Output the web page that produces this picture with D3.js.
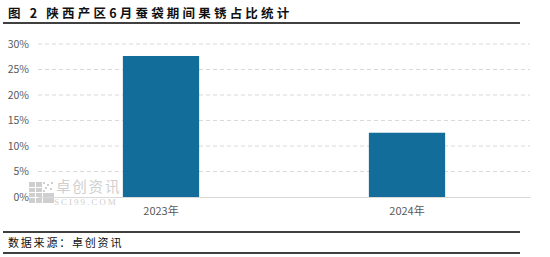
<!DOCTYPE html>
<html>
<head>
<meta charset="utf-8">
<script src="https://cdn.jsdelivr.net/npm/d3@7"></script>
<style>
  body { margin: 0; background: #fff; }
  svg { display: block; }
</style>
</head>
<body>
<div id="chart"></div>
<script>
// data
var years = ["2023年", "2024年"];
var shares = [27.65, 12.6];   // percent
var yTicks = [0, 5, 10, 15, 20, 25, 30];

var width = 550, height = 257;
var margin = { top: 44, right: 20, bottom: 60, left: 38 };

var svg = d3.select("#chart").append("svg")
    .attr("width", width)
    .attr("height", height);

var font = "'Noto Sans CJK SC', 'Liberation Sans', Arial, sans-serif";

// title and rules
svg.append("text")
    .attr("x", 8).attr("y", 18)
    .text("图 2 陕西产区6月蚕袋期间果锈占比统计")
    .style("font-family", font)
    .style("font-weight", "bold")
    .style("font-size", "12.5px")
    .style("letter-spacing", "3.2px")
    .style("fill", "#111");

[23, 232, 253].forEach(function(y) {
    svg.append("line")
        .attr("x1", 3).attr("x2", 520)
        .attr("y1", y).attr("y2", y)
        .style("stroke", "#000")
        .style("stroke-width", 1.5);
});

svg.append("text")
    .attr("x", 8).attr("y", 247)
    .text("数据来源：卓创资讯")
    .style("font-family", font)
    .style("font-size", "11px")
    .style("letter-spacing", "1.8px")
    .style("fill", "#111");

var x = d3.scaleBand()
    .domain(years)
    .range([margin.left, 530])
    .paddingInner(0.69)
    .paddingOuter(0.345);

var y = d3.scaleLinear()
    .domain([0, 30])
    .range([197, margin.top]);

// watermark
var wm = svg.append("g").attr("fill", "#cfcfcf");
[[29, 182, 6, 5], [36, 182, 6, 5], [29, 188, 6, 4], [36, 188, 6, 4],
 [29, 193, 6, 4], [36, 193, 6, 4], [43, 193, 11, 4],
 [29, 198, 6, 5], [36, 198, 6, 5], [43, 198, 11, 5]].forEach(function(p) {
    wm.append("rect").attr("x", p[0]).attr("y", p[1]).attr("width", p[2]).attr("height", p[3]);
});
[[43, 182], [47, 184], [51, 182], [45, 187], [50, 188], [43, 190]].forEach(function(p) {
    wm.append("rect").attr("x", p[0]).attr("y", p[1]).attr("width", 2).attr("height", 2);
});
wm.append("text")
    .attr("x", 56).attr("y", 191.5)
    .text("卓创资讯")
    .style("font-family", font)
    .style("font-size", "14.5px")
    .style("letter-spacing", "1.8px");
wm.append("text")
    .attr("x", 54).attr("y", 204.5)
    .text("SCI99.COM")
    .style("font-family", "'Liberation Serif', serif")
    .style("font-size", "9px")
    .style("letter-spacing", "2px");

// gridlines
svg.append("g")
    .selectAll("line")
    .data(yTicks.filter(function(d) { return d > 0; }))
    .enter().append("line")
    .attr("x1", margin.left).attr("x2", 530)
    .attr("y1", function(d) { return y(d); })
    .attr("y2", function(d) { return y(d); })
    .style("stroke", "#d9d9d9")
    .style("stroke-dasharray", "4,3");

// y axis labels
var yAxis = svg.append("g")
    .attr("transform", "translate(" + 29 + ",0)")
    .call(d3.axisLeft(y).tickValues(yTicks).tickSize(0).tickPadding(0)
        .tickFormat(function(d) { return d + "%"; }));
yAxis.select(".domain").remove();
yAxis.selectAll("text")
    .style("font-family", font)
    .style("font-size", "10.5px")
    .style("fill", "#595959");

// bars
svg.selectAll(".bar")
    .data(shares)
    .enter().append("rect")
    .attr("class", "bar")
    .attr("x", function(d, i) { return x(years[i]); })
    .attr("width", x.bandwidth())
    .attr("y", function(d) { return y(d); })
    .attr("height", function(d) { return y(0) - y(d); })
    .style("fill", "#136d9b");

// x axis
var xAxis = svg.append("g")
    .attr("transform", "translate(0," + y(0) + ")")
    .call(d3.axisBottom(x).tickSize(0).tickPadding(10));
xAxis.select(".domain")
    .style("stroke", "#d9d9d9");
xAxis.selectAll("text")
    .style("font-family", font)
    .style("font-size", "11px")
    .style("fill", "#595959");
</script>
</body>
</html>
